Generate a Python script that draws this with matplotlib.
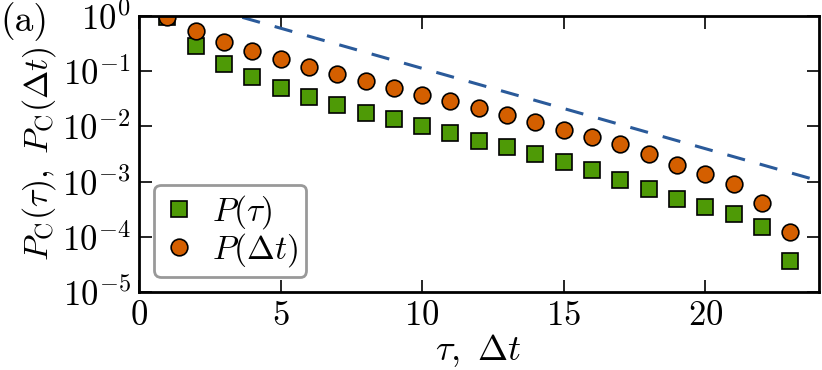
import matplotlib
matplotlib.use('Agg')
from matplotlib import pyplot as plt
import numpy as np

plt.rcParams['font.family'] = 'serif'
plt.rcParams['font.serif'] = ['cmr10']
plt.rcParams['mathtext.fontset'] = 'cm'
plt.rcParams['axes.formatter.use_mathtext'] = True
plt.rcParams['axes.unicode_minus'] = False

# data
lag = [1, 2, 3, 4, 5, 6, 7, 8, 9, 10, 11, 12, 13, 14, 15, 16, 17, 18, 19, 20, 21, 22, 23]
p_tau = [0.95, 0.29, 0.135, 0.079, 0.050, 0.034, 0.0245, 0.0177, 0.0134, 0.0102,
         0.0075, 0.0055, 0.0043, 0.0031, 0.0023, 0.0016, 0.00107, 0.00072, 0.00048,
         0.00035, 0.00026, 0.000148, 0.000036]
p_dt = [0.95, 0.54, 0.34, 0.23, 0.164, 0.119, 0.089, 0.066, 0.050, 0.037,
        0.0285, 0.0213, 0.0159, 0.012, 0.0086, 0.0065, 0.0048, 0.0031, 0.0020,
        0.00137, 0.00091, 0.00041, 0.00012]
# dashed guide line (end points)
guide_x = [0, 24]
guide_y = [3.2, 1.03e-3]

fig = plt.figure(figsize=(8.22, 3.70), dpi=100)
ax = fig.add_axes([0.169, 0.211, 0.827, 0.746])

ax.plot(guide_x, guide_y, '--', color='#2a5a9a', lw=2.2, dashes=(6, 5))
ax.plot(lag, p_tau, 's', color='#4e9a06', mec='black', mew=1.2, ms=11.5, label=r'$P(\tau)$')
ax.plot(lag, p_dt, 'o', color='#d45f00', mec='black', mew=1.2, ms=12, label=r'$P(\Delta t)$')

ax.set_yscale('log')
ax.set_xlim(0, 24)
ax.set_ylim(1e-5, 1)
ax.set_xticks([0, 5, 10, 15, 20])
ax.set_yticks([1e-5, 1e-4, 1e-3, 1e-2, 1e-1, 1])

for s in ax.spines.values():
    s.set_linewidth(2)
ax.tick_params(which='both', direction='in', top=True, right=True, labelsize=25, pad=6)
ax.tick_params(which='major', length=9, width=1.2)
ax.tick_params(which='minor', length=4, width=1)
ax.tick_params(axis='x', which='minor', top=False, bottom=False)

ax.set_xlabel(r'$\tau,\ \Delta t$', fontsize=26, labelpad=0)
ax.set_ylabel(r'$P_{\rm C}(\tau),\ P_{\rm C}(\Delta t)$', fontsize=24.5, labelpad=3)

leg = ax.legend(loc='lower left', fontsize=24, numpoints=1, fancybox=True,
                handletextpad=0.5, borderpad=0.25, labelspacing=0.0,
                handlelength=1.0, bbox_to_anchor=(0.022, 0.054), borderaxespad=0)
leg.get_frame().set_edgecolor('gray')
leg.get_frame().set_linewidth(2)

fig.text(0.0, 0.995, '(a)', fontsize=27, va='top', ha='left')

plt.savefig('out.png', dpi=100)
